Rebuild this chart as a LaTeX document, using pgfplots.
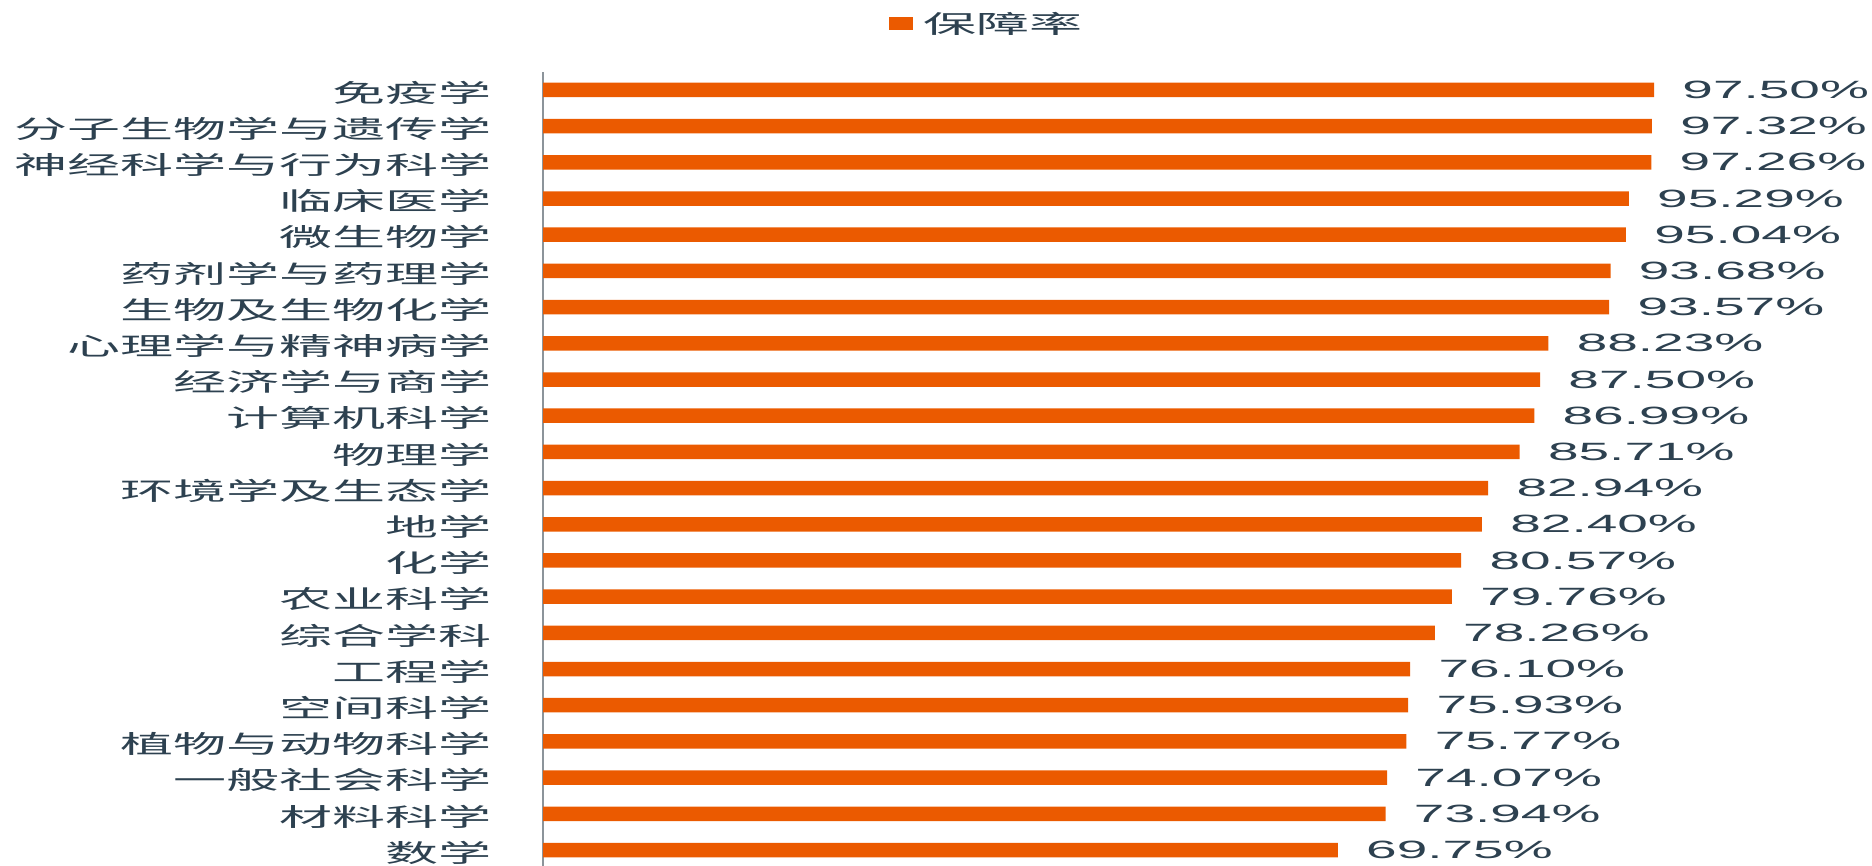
\documentclass[border=0pt]{standalone}
\usepackage{fontspec}
\setmainfont{Liberation Sans}[FakeStretch=2.2]
\newfontfamily\cjk{Noto Sans CJK SC}[FakeStretch=2.12]
\usepackage{pgfplots}
\pgfplotsset{compat=1.18}
\usepackage{pgfplotstable}
\definecolor{barorange}{RGB}{235,90,0}
\definecolor{textcol}{RGB}{45,65,80}
\definecolor{axisgray}{RGB}{140,148,154}
\pgfplotstableread{
y val
0 69.75
1 73.94
2 74.07
3 75.77
4 75.93
5 76.10
6 78.26
7 79.76
8 80.57
9 82.40
10 82.94
11 85.71
12 86.99
13 87.50
14 88.23
15 93.57
16 93.68
17 95.04
18 95.29
19 97.26
20 97.32
21 97.50
}\datatable
\begin{document}
\begin{tikzpicture}
\useasboundingbox (0,0) rectangle (936pt,433pt);
\begin{axis}[
  at={(271.5pt,0pt)}, anchor=south west,
  scale only axis,
  width=569.75pt, height=397pt,
  xmin=0, xmax=100,
  ymin=-0.442, ymax=21.497,
  enlargelimits=false,
  clip=false,
  xbar, bar width=7.25pt, bar shift=0pt,
  axis x line=none,
  axis y line=left,
  y axis line style={-, draw=axisgray, line width=1pt},
  ytick={0,...,21},
  yticklabels={数学,材料科学,一般社会科学,植物与动物科学,空间科学,工程学,综合学科,农业科学,化学,地学,环境学及生态学,物理学,计算机科学,经济学与商学,心理学与精神病学,生物及生物化学,药剂学与药理学,微生物学,临床医学,神经科学与行为科学,分子生物学与遗传学,免疫学},
  ytick style={draw=none},
  yticklabel style={font=\cjk\fontsize{12.5pt}{15pt}\selectfont, text=textcol, inner sep=0pt, xshift=-23.5pt, yshift=-1.3pt},
  point meta=x,
  nodes near coords={\pgfmathprintnumber[fixed,fixed zerofill,precision=2]{\pgfplotspointmeta}\%},
  every node near coord/.append style={font=\fontsize{12.5pt}{15pt}\selectfont, text=textcol, inner sep=0pt, anchor=west, xshift=14pt},
  /pgf/number format/assume math mode=true,
  legend style={draw=none, fill=none, inner sep=0pt, at={(0.3036,1.0605)}, anchor=west, column sep=5pt, nodes={inner sep=0pt}, font=\cjk\fontsize{12.5pt}{15pt}\selectfont, text=textcol},
  legend cell align=left,
  legend image code/.code={\fill[barorange] (0pt,-3.25pt) rectangle (12pt,3.25pt);},
]
\addplot[fill=barorange, draw=none] table[x=val, y=y] {\datatable};
\addlegendentry{保障率}
\end{axis}
\end{tikzpicture}
\end{document}
